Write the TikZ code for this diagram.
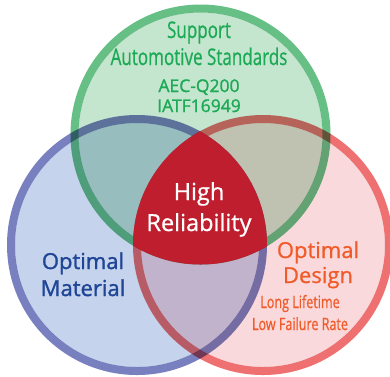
\documentclass[tikz,border=0pt]{standalone}
\usepackage{fontspec}
\usepackage{graphicx}
\setmainfont{Open Sans}
\newfontfamily\semib[FakeBold=1.3]{Open Sans}
\newfontfamily\medf[FakeBold=0.8]{Open Sans}
\definecolor{gfill}{HTML}{C4E5CE}
\definecolor{bfill}{HTML}{C5D3EC}
\definecolor{rfill}{HTML}{F9D9DC}
\definecolor{gline}{HTML}{66BF85}
\definecolor{bline}{HTML}{7880BF}
\definecolor{rline}{HTML}{EE7070}
\definecolor{core}{HTML}{BE1E2D}
\definecolor{gtext}{HTML}{1DAA56}
\definecolor{btext}{HTML}{1E4596}
\definecolor{otext}{HTML}{F15A29}
\tikzset{
  ring/.style={line width=8pt},
  cond/.style={anchor=base, inner sep=0pt},
}
\newcommand{\narrow}[2]{\scalebox{#1}[1]{#2}}
\begin{document}
\begin{tikzpicture}[x=1pt,y=-1pt]
\useasboundingbox (0,0) rectangle (390,376);
\fill[white] (0,0) rectangle (390,376);
\coordinate (G) at (200.5,134.5);
\coordinate (B) at (137,245);
\coordinate (R) at (263,245);
\begin{scope}[blend mode=multiply]
  \fill[gfill] (G) circle[radius=122];
  \fill[bfill] (B) circle[radius=122];
  \fill[rfill] (R) circle[radius=122];
  \draw[ring, gline] (G) circle[radius=126];
  \draw[ring, bline] (B) circle[radius=126];
  \draw[ring, rline] (R) circle[radius=126];
\end{scope}
\begin{scope}
  \clip (G) circle[radius=130];
  \clip (B) circle[radius=130];
  \fill[core] (R) circle[radius=130];
\end{scope}
% texts
\node[cond, text=gtext, font=\fontsize{23}{23}\medf] (t1) at (199,38) {\narrow{0.74}{Support}};
\node[cond, text=gtext, font=\fontsize{23}{23}\medf] (t2) at (199,65) {\narrow{0.74}{Automotive Standards}};
\node[cond, text=gtext, font=\fontsize{17.5}{17}\semib] (t3) at (199,92) {AEC-Q200};
\node[cond, text=gtext, font=\fontsize{17.5}{17}\semib] (t4) at (199,112) {IATF16949};
\node[cond, text=white, font=\fontsize{23.5}{23}\medf] (h1) at (199,200) {High};
\node[cond, text=white, font=\fontsize{23.5}{23}\medf] (h2) at (199,231) {Reliability};
\node[cond, text=btext, font=\fontsize{22}{22}\semib] (m1) at (83,269) {Optimal};
\node[cond, text=btext, font=\fontsize{22}{22}\semib] (m2) at (83,296) {Material};
\node[cond, text=otext, font=\fontsize{22}{22}\medf] (d1) at (318,258) {Optimal};
\node[cond, text=otext, font=\fontsize{22}{22}\medf] (d2) at (318,283) {Design};
\node[cond, text=otext, font=\fontsize{17}{17}\medf] (l1) at (300,308) {\narrow{0.74}{Long Lifetime}};
\node[cond, text=otext, font=\fontsize{17}{17}\medf] (l2) at (300,330) {\narrow{0.74}{Low Failure Rate}};
\end{tikzpicture}
\end{document}
